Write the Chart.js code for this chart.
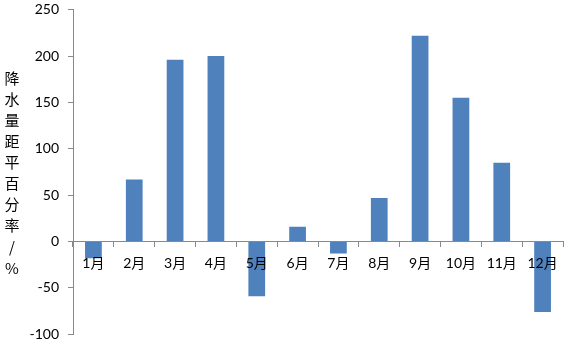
<!DOCTYPE html>
<html><head><meta charset="utf-8">
<script src="https://cdn.jsdelivr.net/npm/chart.js@4.4.0/dist/chart.umd.min.js"></script>
<style>html,body{margin:0;padding:0;background:#fff;overflow:hidden}#wrap{width:567px;height:340px;position:relative;overflow:hidden}</style>
</head><body><div id="wrap"><canvas id="c" width="567" height="344"></canvas></div>
<script>
const categories = ['1月','2月','3月','4月','5月','6月','7月','8月','9月','10月','11月','12月'];
const values = [-18, 67, 196, 200, -59, 16, -13, 47, 222, 155, 85, -76];
const yTitle = ['降','水','量','距','平','百','分','率','/','%'];
const yMin = -100, yMax = 250, yStep = 50;

const FONT = "Lato, 'Noto Sans CJK SC', sans-serif";
const titlePlugin = {
  id: 'vtitle',
  afterDraw(chart) {
    const ctx = chart.ctx;
    ctx.save();
    ctx.fillStyle = '#000';
    ctx.font = "15px 'Noto Sans CJK SC', sans-serif";
    ctx.textAlign = 'center';
    ctx.textBaseline = 'middle';
    yTitle.forEach((ch, i) => ctx.fillText(ch, 12, 78 + i * 21.1));
    ctx.restore();
  }
};

new Chart(document.getElementById('c'), {
  type: 'bar',
  data: { labels: categories, datasets: [{ data: values, backgroundColor: '#4F81BD', borderWidth: 0, categoryPercentage: 0.41, barPercentage: 1 }] },
  options: {
    responsive: false, animation: false,
    layout: { padding: { left: 0, right: 4, top: 8, bottom: 0 } },
    plugins: { legend: { display: false }, tooltip: { enabled: false } },
    scales: {
      x: {
        position: { y: 0 },
        offset: true,
        grid: { display: true, drawOnChartArea: false, drawTicks: true, tickLength: 5, color: '#898989', offset: true },
        border: { display: true, color: '#898989', width: 1 },
        ticks: { z: 1, color: '#000', font: { family: FONT, size: 14 }, padding: 9, maxRotation: 0, autoSkip: false }
      },
      y: {
        min: yMin, max: yMax,
        afterFit(s) { s.width = 73; },
        grid: { display: true, drawOnChartArea: false, drawTicks: true, tickLength: 5, color: '#898989' },
        border: { display: true, color: '#898989', width: 1 },
        ticks: { stepSize: yStep, color: '#000', font: { family: FONT, size: 14, lineHeight: 0.1 }, padding: 9 }
      }
    }
  },
  plugins: [titlePlugin]
});
</script></body></html>
